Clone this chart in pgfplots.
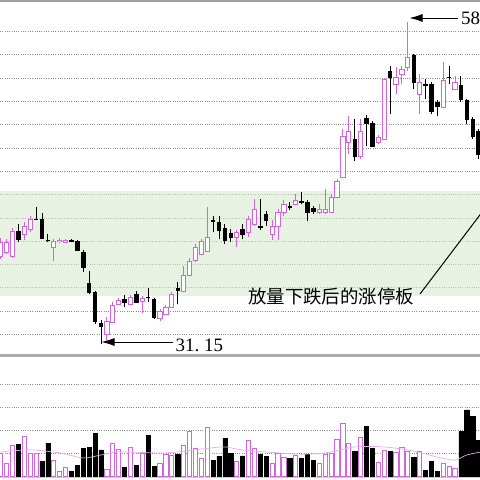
\documentclass[border=0pt]{standalone}
\usepackage{fontspec}
\setmainfont{Liberation Serif}
\newfontfamily\cjk{Noto Sans CJK SC}
\usepackage{pgfplots}
\pgfplotsset{compat=1.18}
\usepackage{pgfplotstable}
\usetikzlibrary{arrows.meta}

\definecolor{kpink}{RGB}{212,100,222}
\definecolor{band}{RGB}{217,233,207}
\definecolor{gridc}{RGB}{140,140,140}

% rising candles (close > open)
\pgfplotstableread{
i o h l c
0 38.70 40.24 38.44 39.90
1 39.04 40.15 38.87 39.90
2 38.70 41.10 38.52 40.84
4 40.58 41.61 40.07 41.27
5 41.01 42.13 40.76 41.87
9 39.47 40.15 38.27 39.98
10 39.94 40.24 39.81 40.07
11 39.90 40.15 39.81 40.03
18 32.00 33.46 31.31 33.12
19 33.03 34.75 32.94 34.49
20 34.58 35.09 34.49 34.92
22 34.58 35.35 34.49 35.18
24 34.83 35.26 33.80 35.09
27 33.37 34.15 33.12 33.97
28 33.72 34.49 33.63 34.32
29 34.32 35.61 34.23 35.43
31 35.69 37.84 35.61 37.06
32 37.06 38.52 36.98 38.27
33 38.35 39.73 38.18 39.47
34 38.87 40.15 38.78 39.98
35 39.12 42.90 39.04 40.33
40 40.33 40.93 39.47 40.76
42 40.76 42.13 40.33 41.87
43 41.44 43.59 41.27 42.73
46 40.58 41.79 40.07 41.27
47 41.27 42.73 40.07 42.47
48 42.47 43.50 42.13 43.16
50 43.16 44.02 43.07 43.50
54 42.47 43.16 42.30 42.73
55 42.47 44.45 42.30 42.73
56 42.47 44.02 42.39 43.76
57 43.76 45.31 43.67 45.13
58 45.48 49.60 45.39 49.00
59 48.48 50.71 47.45 49.43
61 47.28 50.46 47.02 49.43
64 48.48 49.08 48.31 48.91
65 48.74 53.98 48.65 53.89
67 53.46 54.92 52.60 54.06
68 54.32 55.01 53.46 54.75
69 54.92 58.78 54.58 55.78
71 52.60 54.32 50.88 53.63
75 51.49 55.35 51.40 53.80
77 53.03 54.15 52.94 53.63
}\upc

% falling candles (close <= open)
\pgfplotstableread{
i o h l c
3 40.84 41.44 39.90 40.15
6 41.87 42.90 41.79 41.83
7 41.87 42.39 40.15 40.24
8 40.07 40.58 39.90 40.03
12 40.07 40.15 39.90 39.98
13 39.98 40.07 39.12 39.21
14 39.04 39.21 37.32 37.75
15 36.38 37.41 35.43 35.61
16 35.61 35.69 32.86 33.12
17 32.94 33.20 31.15 32.69
21 35.00 35.35 34.32 34.75
23 35.43 35.69 34.66 34.75
25 35.18 35.95 34.75 35.13
26 35.00 35.09 33.29 33.46
30 35.95 36.46 34.58 35.78
36 41.79 42.13 40.76 41.66
37 41.61 42.13 40.15 40.93
38 41.10 41.44 39.73 40.07
39 40.67 41.01 39.90 40.33
41 41.01 41.44 40.15 40.58
44 41.27 43.59 40.93 41.18
45 42.30 42.56 41.27 41.79
49 42.99 43.33 42.64 42.90
51 43.42 44.19 43.16 43.33
52 43.33 43.50 41.70 42.47
53 42.82 42.99 42.30 42.56
60 48.74 50.46 46.85 47.28
62 50.54 50.80 48.14 50.11
63 50.11 50.28 48.05 48.14
66 54.58 55.01 50.88 54.06
70 55.95 56.04 53.03 53.63
72 53.46 53.89 52.17 53.37
73 53.46 53.63 50.88 51.14
74 51.91 52.09 50.71 51.57
76 54.06 55.01 53.46 54.02
78 53.37 54.15 51.91 52.17
79 52.09 52.17 50.03 50.46
80 50.46 50.63 48.74 49.00
81 49.43 49.60 47.02 47.45
}\downc

\pgfplotstableread{
i v
0 1.01
1 0.58
2 1.34
4 1.73
5 1.01
6 1.01
9 0.72
10 0.24
11 0.39
18 0.29
19 1.45
20 1.16
22 1.26
24 1.01
27 0.58
28 0.97
29 0.91
31 1.37
32 1.95
33 1.20
34 0.77
35 2.14
40 0.65
42 1.59
43 1.20
46 0.55
47 1.00
48 0.82
50 0.91
54 0.58
55 0.97
56 1.01
57 1.63
58 2.29
59 1.42
61 1.71
64 0.62
65 1.14
67 1.04
68 1.27
69 1.08
71 1.08
75 0.58
76 0.46
77 0.36
}\volup

\pgfplotstableread{
i v
3 1.40
7 0.65
8 1.45
12 0.21
13 0.47
14 1.23
15 1.26
16 1.88
17 1.16
21 0.39
23 0.47
25 1.78
26 0.43
30 0.97
36 0.72
37 0.87
38 1.67
39 1.01
41 0.90
44 0.98
45 0.87
49 0.80
51 0.80
52 0.98
53 0.72
60 1.08
62 2.17
63 1.21
66 1.11
70 0.84
72 0.26
73 0.65
74 0.21
78 1.95
79 2.90
80 2.60
81 1.56
}\voldown

\begin{document}
\begin{tikzpicture}[x=1bp,y=1bp]

% ---------- price panel ----------
\begin{axis}[
  at={(0,103.5)}, anchor=south west,
  width=480bp, height=353bp, scale only axis,
  xmin=-0.119, xmax=81.24, ymin=29.854, ymax=60.156,
  axis line style={draw=none},
  xtick=\empty, ytick={32,34,...,58}, yticklabels={},
  major tick length=0pt,
  ymajorgrids,
  grid style={gridc, dash pattern=on 0.9bp off 1.4bp, line width=0.7bp},
  wick/.style={draw=none, mark=none, forget plot,
     error bars/.cd, y dir=plus, y explicit, error mark=none,
     error bar style={draw=#1, line width=0.9bp, solid, line cap=butt}},
  body/.style 2 args={draw=none, mark=none, forget plot,
     error bars/.cd, y dir=plus, y explicit, error mark=none,
     error bar style={draw=#1, line width=#2, solid, line cap=butt}},
]
\fill[band, fill opacity=0.6] (axis cs:-1,35.26) rectangle (axis cs:82,44.27);
% falling: wick + filled body
\addplot[wick=black] table[x=i, y=l, y error plus expr=\thisrow{h}-\thisrow{l}] {\downc};
\addplot[body={black}{4.4bp}] table[x=i, y expr=\thisrow{c}-0.04, y error plus expr=\thisrow{o}-\thisrow{c}+0.08] {\downc};
% rising: wick + hollow body
\addplot[wick=kpink] table[x=i, y=l, y error plus expr=\thisrow{h}-\thisrow{l}] {\upc};
\addplot[body={kpink}{5.2bp}] table[x=i, y expr=\thisrow{o}-0.045, y error plus expr=\thisrow{c}-\thisrow{o}+0.09] {\upc};
\addplot[body={white}{3.2bp}] table[x=i, y expr=\thisrow{o}+0.045, y error plus expr={max(\thisrow{c}-\thisrow{o}-0.09,0)}] {\upc};
\end{axis}

% ---------- volume panel ----------
\begin{axis}[
  at={(0,0)}, anchor=south west,
  width=480bp, height=125bp, scale only axis,
  xmin=-0.119, xmax=81.24, ymin=-0.148, ymax=5.287,
  axis line style={draw=none},
  xtick=\empty, ytick={1,2,3,4}, yticklabels={},
  major tick length=0pt,
  ymajorgrids,
  grid style={gridc, dash pattern=on 0.9bp off 1.4bp, line width=0.7bp},
]
\addplot[ybar, bar width=4.2bp, bar shift=0pt, draw=kpink, fill=white, line width=1bp] table[x=i,y=v]{\volup};
\addplot[ybar, bar width=4.2bp, bar shift=0pt, draw=black, fill=black, line width=0.6bp] table[x=i,y=v]{\voldown};
\addplot[kpink!55, line width=0.7bp, mark=none, smooth] coordinates {
(-1,1.07) (0,1.07) (5,1.16) (10,1.03) (14,0.81) (17,0.94) (20,1.07) (28,1.03)
(34,1.20) (38,1.29) (41,1.16) (50,0.98) (55,1.03) (60,1.29) (65,1.29)
(70,1.11) (74,0.85) (77,0.72) (79,0.94) (82,1.10)};
\end{axis}

% ---------- frame lines ----------
\draw[gray!75, line width=2bp] (0,479) -- (480,479);
\draw[gray!65, line width=2.5bp] (0,124.5) -- (480,124.5);
\draw[gray!40, line width=0.6bp] (0,3) -- (480,3);

% ---------- annotations ----------
\draw[black, line width=0.9bp, -{Latex[length=13bp,width=8bp]}] (458,462) -- (409.5,462);
\node[anchor=base west, inner sep=0pt, font=\fontsize{19}{19}\selectfont] at (461,455) {58.78};
\draw[black, line width=0.9bp, -{Latex[length=13bp,width=8bp]}] (173,138) -- (101.5,138);
\node[anchor=base west, inner sep=0pt, font=\fontsize{19}{19}\selectfont] at (175.5,128.5) {31.\ 15};
\node[anchor=base west, inner sep=0pt, font=\cjk\fontsize{18.5}{18.5}\selectfont] at (248,176.5) {放量下跌后的涨停板};
\draw[black, line width=1bp] (420,186) -- (492,281);

\pgfresetboundingbox
\path[use as bounding box] (0,0) rectangle (480,480);
\end{tikzpicture}
\end{document}
